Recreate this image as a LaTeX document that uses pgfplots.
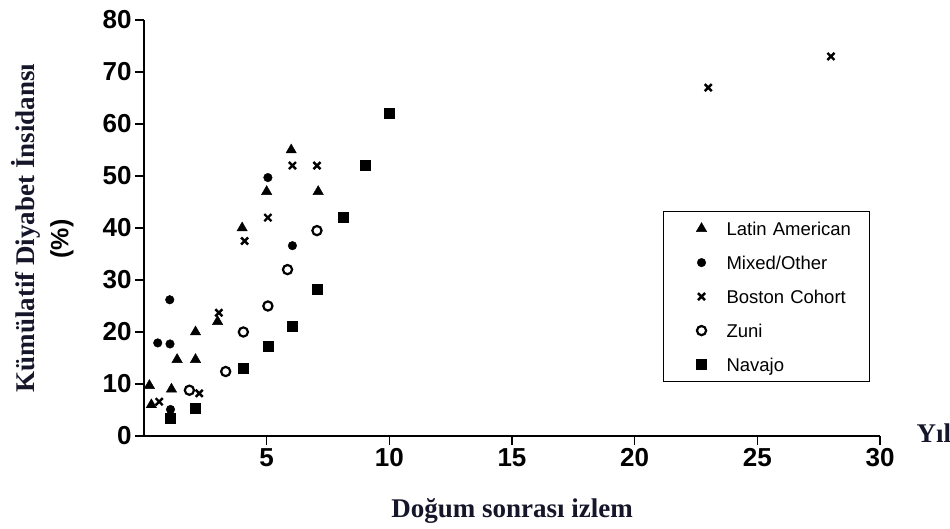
\documentclass[border=0pt]{standalone}
\usepackage{fontspec}
\setmainfont{Liberation Serif}
\newfontfamily\arialf{Liberation Sans}
\usepackage{pgfplots}
\pgfplotsset{compat=1.18}
\definecolor{labnavy}{RGB}{22,22,42}
\begin{document}
\begin{tikzpicture}
\useasboundingbox (-144pt,-93pt) rectangle (806pt,436pt);
\begin{axis}[
  at={(0pt,0pt)}, anchor=south west,
  scale only axis, width=736pt, height=416pt,
  xmin=0, xmax=30, ymin=0, ymax=80,
  axis lines*=left,
  axis line style={line width=2pt, black},
  xtick={5,10,...,30}, ytick={0,10,...,80},
  tick align=outside,
  major tick length=9pt,
  tick style={line width=1.6pt, black},
  /pgf/number format/assume math mode=true,
  ticklabel style={font=\arialf\bfseries\fontsize{26}{26}\selectfont},
  clip=false,
  legend cell align=left,
  legend style={at={(0.705,0.541)}, anchor=north west, draw=black, line width=1.3pt,
    inner sep=0pt, row sep=0pt, column sep=0pt,
    font=\arialf\fontsize{18.5}{20}\selectfont,
    nodes={draw=none, inner sep=0pt, text height=13pt, text depth=0pt, text width=143pt, align=left, anchor=west}},
  legend image code/.code={\path[draw=none, fill=none] (-38pt,-17pt) rectangle (25pt,17pt); \draw[#1] plot coordinates {(0pt,0pt)};},
]
\addplot[only marks, black, mark=triangle*, mark size=6pt, mark options={line width=0.4pt, solid}]
  coordinates {(6,55)(5,47)(7.1,47)(4,40)(3,22)(2.1,20)(1.35,14.7)(2.1,14.7)(0.22,9.7)(1.12,9)(0.3,6)};
\addlegendentry{Latin American}
\addplot[only marks, black, mark=*, mark size=4.3pt, mark options={line width=0.4pt, solid}]
  coordinates {(5.05,49.7)(6.05,36.6)(1.05,26.2)(0.56,17.9)(1.06,17.7)(1.08,5.1)};
\addlegendentry{Mixed/Other}
\addplot[only marks, black, mark=x, mark size=5pt, mark options={line width=2.4pt, solid}]
  coordinates {(28,73)(23,67)(6.05,52)(7.05,52)(5.05,42)(4.1,37.5)(3.05,23.7)(2.25,8.2)(0.62,6.6)};
\addlegendentry{Boston Cohort}
\addplot[only marks, black, mark=o, mark size=4.6pt, mark options={line width=2.2pt, solid}]
  coordinates {(7.05,39.5)(5.85,32)(5.05,25)(4.05,20)(3.33,12.4)(1.85,8.8)};
\addlegendentry{Zuni}
\addplot[only marks, black, mark=square*, mark size=5pt, mark options={line width=0.4pt, solid}]
  coordinates {(10,62)(9,52)(8.1,42)(7.05,28.3)(6.05,21.2)(5.05,17.2)(4.05,13)(2.1,5.3)(1.07,3.4)};
\addlegendentry{Navajo}
\end{axis}
\node[rotate=90, font=\bfseries\fontsize{27}{27}\selectfont, text=labnavy] at (-118pt,208pt) {Kümülatif Diyabet İnsidansı};
\node[rotate=90, font=\arialf\bfseries\fontsize{25}{25}\selectfont] at (-82pt,197pt) {(\%)};
\node[anchor=base, font=\bfseries\fontsize{27}{27}\selectfont, text=labnavy] at (368pt,-82pt) {Doğum sonrası izlem};
\node[anchor=base west, font=\bfseries\fontsize{27}{27}\selectfont, text=labnavy] at (769pt,-7pt) {Yıl};
\end{tikzpicture}
\end{document}
